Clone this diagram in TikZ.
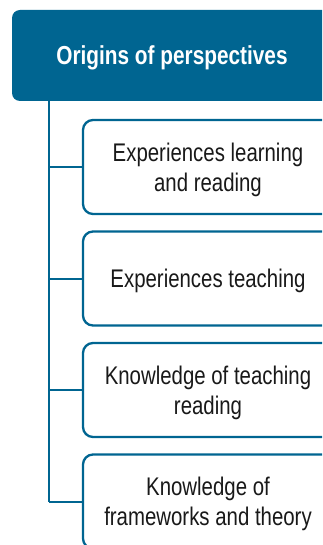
\documentclass[tikz,border=0pt]{standalone}
\usepackage{fontspec}
\setmainfont{Liberation Sans}[FakeStretch=0.80]
\definecolor{origblue}{RGB}{0,101,145}
\tikzset{
  headbox/.style={fill=origblue, rounded corners=8pt, text=white,
    font=\fontsize{26}{31}\selectfont\bfseries, text depth=0pt,
    minimum width=320pt, minimum height=91pt},
  itembox/.style={draw=origblue, line width=2.3pt, fill=white, rounded corners=10pt,
    text=black!90, align=center, font=\fontsize{25.5}{30}\selectfont, text depth=0pt,
    minimum width=250pt, minimum height=94pt},
  link/.style={draw=origblue, line width=2pt}
}
\begin{document}
\begin{tikzpicture}[x=1pt,y=-1pt]
\useasboundingbox (0,0) rectangle (322,545);
\clip (0,0) rectangle (322,545);
\node[headbox] (origins) at (172,55.5) {Origins of perspectives};
\coordinate (trunk) at ([xshift=37pt]origins.south west);
\foreach \n/\y/\txt in {learning/167/{Experiences learning\\and reading},
                        teaching/278.5/{Experiences teaching},
                        readknow/390/{Knowledge of teaching\\reading},
                        theory/501.5/{Knowledge of\\frameworks and theory}}
  \node[itembox] (\n) at (208,\y) {\txt};
\draw[link] (trunk) -- (trunk |- theory.west);
\foreach \n in {learning,teaching,readknow,theory}
  \draw[link] (trunk |- \n.west) -- (\n.west);
\end{tikzpicture}
\end{document}
